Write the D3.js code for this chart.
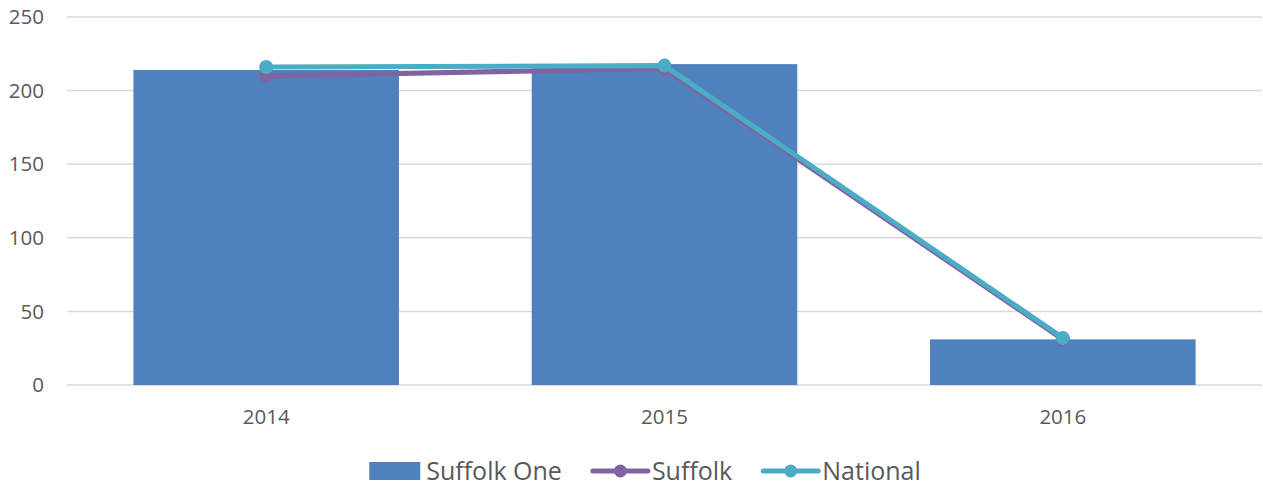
<!DOCTYPE html>
<html>
<head>
<meta charset="utf-8">
<script src="https://cdn.jsdelivr.net/npm/d3@7"></script>
<style>
  body { margin: 0; background: #fff; }
  svg { display: block; font-family: "Open Sans", sans-serif; }
</style>
</head>
<body>
<div id="viz"></div>
<script>
const years = ['2014', '2015', '2016'];
const suffolkOne = [214, 218, 31];
const suffolk = [210, 215, 31];
const national = [216, 217, 32];
const yTicks = [0, 50, 100, 150, 200, 250];

const canvasWidth = 1263;
const canvasHeight = 486;
const margin = { top: 17, right: 1, bottom: 101, left: 67 };
const plotWidth = canvasWidth - margin.left - margin.right;
const plotHeight = canvasHeight - margin.top - margin.bottom;

const textColor = '#595959';
const colors = { bar: '#4F81BD', suffolk: '#8064A2', national: '#4BACC6' };

const x = d3.scaleBand().domain(years).range([0, plotWidth]).padding(0);
const y = d3.scaleLinear().domain([0, 250]).range([plotHeight, 0]);
const barWidth = x.bandwidth() / 1.5;

const canvas = d3.select('#viz')
  .append('svg')
  .attr('width', canvasWidth)
  .attr('height', canvasHeight);

const plot = canvas.append('g')
  .attr('transform', `translate(${margin.left}, ${margin.top})`);

// gridlines
plot.append('g')
  .selectAll('line').data(yTicks)
  .enter().append('line')
    .attr('x1', 0)
    .attr('x2', plotWidth)
    .attr('y1', (d) => y(d))
    .attr('y2', (d) => y(d))
    .attr('stroke', '#D9D9D9')
    .attr('stroke-width', 1.5);

// y labels
canvas.append('g')
  .selectAll('text').data(yTicks)
  .enter().append('text')
    .attr('x', 44)
    .attr('y', (d) => margin.top + y(d))
    .attr('dy', '0.35em')
    .attr('text-anchor', 'end')
    .attr('fill', textColor)
    .style('font-size', '20.5px')
    .text((d) => d);

// x labels
canvas.append('g')
  .selectAll('text').data(years)
  .enter().append('text')
    .attr('x', (d) => margin.left + x(d) + x.bandwidth() / 2)
    .attr('y', 424)
    .attr('text-anchor', 'middle')
    .attr('fill', textColor)
    .style('font-size', '20.5px')
    .text((d) => d);

// bars
plot.append('g')
  .selectAll('rect').data(suffolkOne)
  .enter().append('rect')
    .attr('x', (d, i) => x(years[i]) + (x.bandwidth() - barWidth) / 2)
    .attr('y', (d) => y(d))
    .attr('width', barWidth)
    .attr('height', (d) => y(0) - y(d))
    .attr('fill', colors.bar);

const line = d3.line()
  .x((d, i) => x(years[i]) + x.bandwidth() / 2)
  .y((d) => y(d));

[[suffolk, colors.suffolk], [national, colors.national]].forEach(([values, color]) => {
  plot.append('path')
    .datum(values)
    .attr('d', line)
    .attr('fill', 'none')
    .attr('stroke', color)
    .attr('stroke-width', 5)
    .attr('stroke-linejoin', 'round');
  plot.append('g')
    .selectAll('circle').data(values)
    .enter().append('circle')
      .attr('cx', (d, i) => x(years[i]) + x.bandwidth() / 2)
      .attr('cy', (d) => y(d))
      .attr('r', 7)
      .attr('fill', color);
});

// legend
const legendItems = [
  { name: 'Suffolk One', type: 'bar', color: colors.bar },
  { name: 'Suffolk', type: 'line', color: colors.suffolk },
  { name: 'National', type: 'line', color: colors.national }
];
const legendY = 471;
const legendCenter = 645;
const symbolWidth = 55;
const symbolGap = 4;
const itemGap = 31;

const legend = canvas.append('g').attr('id', 'legend');
const items = legend.selectAll('g').data(legendItems)
  .enter().append('g');

items.each(function (d) {
  const g = d3.select(this);
  let textX = symbolWidth + symbolGap;
  if (d.type === 'bar') {
    g.append('rect')
      .attr('x', 0)
      .attr('y', legendY - 9)
      .attr('width', 51)
      .attr('height', 18)
      .attr('fill', d.color);
    textX = 51 + 6;
  } else {
    g.append('line')
      .attr('x1', 0)
      .attr('x2', symbolWidth)
      .attr('y1', legendY)
      .attr('y2', legendY)
      .attr('stroke', d.color)
      .attr('stroke-width', 5)
      .attr('stroke-linecap', 'round');
    g.append('circle')
      .attr('cx', symbolWidth / 2)
      .attr('cy', legendY)
      .attr('r', 6.5)
      .attr('fill', d.color);
  }
  g.append('text')
    .attr('x', textX)
    .attr('y', legendY)
    .attr('dy', '0.35em')
    .attr('fill', textColor)
    .style('font-size', '25px')
    .text(d.name);
});

const widths = [];
items.each(function () {
  widths.push(this.getBBox().width);
});
const total = d3.sum(widths) + itemGap * (widths.length - 1);
let offset = legendCenter - total / 2;
items.attr('transform', (d, i) => {
  const t = `translate(${offset}, 0)`;
  offset += widths[i] + itemGap;
  return t;
});
</script>
</body>
</html>
